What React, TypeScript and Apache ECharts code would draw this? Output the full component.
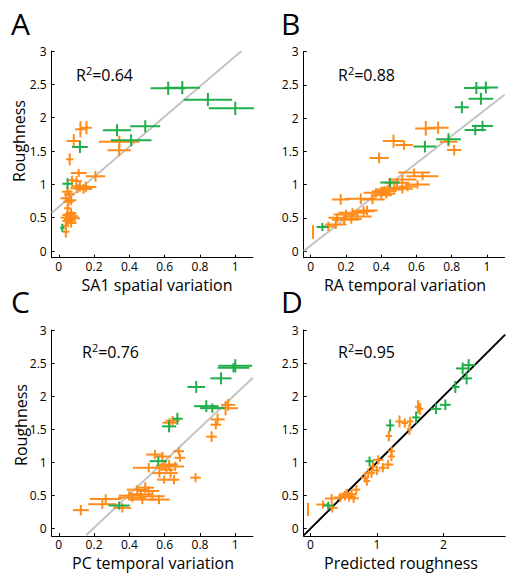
import React, { useEffect, useRef } from 'react';
import * as echarts from 'echarts';

const FONT = '"Open Sans", sans-serif';
const ORANGE = '#ff8c1a';
const GREEN = '#1fae4a';

const yTicks = [0, 0.5, 1, 1.5, 2, 2.5, 3];
const xTicksVar = [0, 0.2, 0.4, 0.6, 0.8, 1];
const xTicksPred = [0, 1, 2];

const panelLetters = ['A', 'B', 'C', 'D'];
const xTitles = ['SA1 spatial variation', 'RA temporal variation', 'PC temporal variation', 'Predicted roughness'];
const r2Values = ['0.64', '0.88', '0.76', '0.95'];

// each point: [x, y, xErr, yErr]
const greenA = [
  [0.62, 2.44, 0.1, 0.1], [0.70, 2.45, 0.1, 0.1], [0.845, 2.27, 0.137, 0.1], [1.0, 2.14, 0.15, 0.1],
  [0.33, 1.81, 0.08, 0.09], [0.49, 1.87, 0.085, 0.09], [0.41, 1.66, 0.115, 0.09], [0.12, 1.56, 0.045, 0.09],
  [0.05, 1.01, 0.03, 0.08], [0.02, 0.35, 0.012, 0.06],
];
const orangeA = [
  [0.123, 1.825, 0.03, 0.12], [0.157, 1.85, 0.03, 0.1], [0.085, 1.65, 0.04, 0.1], [0.062, 1.375, 0.02, 0.09],
  [0.343, 1.64, 0.115, 0.09], [0.342, 1.51, 0.066, 0.09], [0.113, 1.17, 0.045, 0.06], [0.208, 1.12, 0.055, 0.08],
  [0.075, 1.06, 0.03, 0.07], [0.12, 0.97, 0.05, 0.08], [0.153, 0.96, 0.06, 0.08], [0.106, 0.94, 0.04, 0.07],
  [0.14, 0.93, 0.05, 0.07], [0.049, 0.89, 0.03, 0.07], [0.06, 0.85, 0.03, 0.07], [0.04, 0.79, 0.03, 0.07],
  [0.055, 0.74, 0.03, 0.07], [0.07, 0.76, 0.03, 0.07], [0.05, 0.64, 0.02, 0.07], [0.07, 0.57, 0.03, 0.07],
  [0.05, 0.54, 0.03, 0.07], [0.08, 0.52, 0.03, 0.07], [0.04, 0.5, 0.03, 0.07], [0.06, 0.48, 0.03, 0.07],
  [0.09, 0.49, 0.03, 0.07], [0.05, 0.45, 0.03, 0.07], [0.07, 0.42, 0.03, 0.07], [0.04, 0.38, 0.02, 0.07],
  [0.04, 0.29, 0.02, 0.09], [0.1, 1.05, 0.03, 0.07],
];

const greenB = [
  [0.94, 2.45, 0.07, 0.09], [0.994, 2.46, 0.07, 0.09], [0.966, 2.29, 0.07, 0.09], [0.858, 2.16, 0.04, 0.09],
  [0.934, 1.82, 0.06, 0.08], [0.975, 1.88, 0.06, 0.08], [0.782, 1.68, 0.07, 0.09], [0.648, 1.57, 0.065, 0.09],
  [0.45, 1.03, 0.055, 0.07], [0.066, 0.36, 0.033, 0.06],
];
const orangeB = [
  [0.653, 1.844, 0.06, 0.11], [0.723, 1.854, 0.06, 0.09], [0.47, 1.653, 0.06, 0.1], [0.53, 1.593, 0.05, 0.07],
  [0.388, 1.40, 0.055, 0.08], [0.782, 1.643, 0.05, 0.07], [0.814, 1.518, 0.04, 0.08], [0.587, 1.18, 0.09, 0.06],
  [0.635, 1.125, 0.09, 0.06], [0.606, 1.0, 0.07, 0.06], [0.52, 1.075, 0.08, 0.07], [0.49, 1.025, 0.07, 0.07],
  [0.474, 0.95, 0.08, 0.07], [0.445, 0.925, 0.08, 0.07], [0.417, 0.90, 0.07, 0.07], [0.37, 0.875, 0.07, 0.07],
  [0.52, 0.935, 0.06, 0.07], [0.55, 0.97, 0.05, 0.07], [0.284, 0.785, 0.09, 0.08], [0.17, 0.775, 0.05, 0.08],
  [0.35, 0.775, 0.07, 0.07], [0.32, 0.61, 0.06, 0.07], [0.237, 0.575, 0.08, 0.07], [0.2, 0.55, 0.07, 0.07],
  [0.265, 0.52, 0.08, 0.07], [0.15, 0.50, 0.05, 0.07], [0.19, 0.47, 0.07, 0.07], [0.30, 0.60, 0.06, 0.07],
  [0.23, 0.48, 0.06, 0.07], [0.142, 0.40, 0.06, 0.07], [0.10, 0.37, 0.04, 0.07], [0.013, 0.286, 0.005, 0.1],
  [0.40, 0.84, 0.06, 0.07], [0.43, 0.86, 0.05, 0.07],
];

const greenC = [
  [1.0, 2.46, 0.095, 0.1], [0.99, 2.43, 0.09, 0.07], [0.919, 2.27, 0.06, 0.09], [0.779, 2.14, 0.05, 0.09],
  [0.836, 1.85, 0.07, 0.09], [0.87, 1.82, 0.07, 0.07], [0.672, 1.66, 0.03, 0.09], [0.625, 1.545, 0.04, 0.09],
  [0.564, 1.02, 0.05, 0.07], [0.342, 0.35, 0.06, 0.06],
];
const orangeC = [
  [0.945, 1.82, 0.07, 0.11], [0.96, 1.87, 0.04, 0.09], [0.90, 1.65, 0.04, 0.09], [0.89, 1.57, 0.03, 0.07],
  [0.866, 1.39, 0.03, 0.08], [0.628, 1.60, 0.04, 0.07], [0.645, 1.63, 0.04, 0.07], [0.125, 0.28, 0.045, 0.08],
  [0.266, 0.45, 0.09, 0.07], [0.247, 0.37, 0.08, 0.07], [0.36, 0.315, 0.05, 0.07], [0.445, 0.59, 0.06, 0.07],
  [0.49, 0.62, 0.05, 0.08], [0.465, 0.52, 0.07, 0.07], [0.53, 0.49, 0.07, 0.07], [0.417, 0.47, 0.08, 0.07],
  [0.568, 0.44, 0.06, 0.07], [0.474, 0.44, 0.08, 0.07], [0.51, 0.57, 0.06, 0.07], [0.40, 0.5, 0.06, 0.07],
  [0.545, 1.12, 0.05, 0.07], [0.587, 1.09, 0.05, 0.07], [0.51, 0.92, 0.09, 0.07], [0.68, 1.17, 0.03, 0.06],
  [0.687, 1.07, 0.03, 0.06], [0.66, 0.94, 0.05, 0.07], [0.625, 0.97, 0.05, 0.07], [0.57, 0.84, 0.04, 0.07],
  [0.634, 0.84, 0.04, 0.07], [0.653, 0.74, 0.03, 0.07], [0.597, 0.74, 0.04, 0.06], [0.775, 0.77, 0.03, 0.07],
  [0.61, 0.89, 0.04, 0.06], [0.6, 0.95, 0.05, 0.06],
];

const greenD = [
  [2.29, 2.42, 0.1, 0.09], [2.38, 2.47, 0.1, 0.09], [2.35, 2.27, 0.08, 0.09], [2.18, 2.14, 0.06, 0.09],
  [1.89, 1.81, 0.08, 0.08], [2.03, 1.87, 0.08, 0.08], [1.59, 1.68, 0.06, 0.09], [1.20, 1.56, 0.06, 0.09],
  [0.89, 1.02, 0.06, 0.07], [0.27, 0.35, 0.08, 0.06],
];
const orangeD = [
  [-0.035, 0.29, 0.01, 0.1], [0.19, 0.365, 0.1, 0.06], [0.33, 0.315, 0.08, 0.07], [0.32, 0.456, 0.1, 0.07],
  [0.45, 0.47, 0.1, 0.07], [0.52, 0.50, 0.1, 0.07], [0.58, 0.48, 0.1, 0.07], [0.62, 0.52, 0.08, 0.07],
  [0.65, 0.46, 0.08, 0.07], [0.69, 0.59, 0.06, 0.07], [0.55, 0.53, 0.08, 0.07], [0.82, 0.77, 0.06, 0.07],
  [0.87, 0.84, 0.06, 0.07], [0.85, 0.72, 0.05, 0.07], [0.94, 0.94, 0.06, 0.07], [1.02, 1.04, 0.08, 0.07],
  [1.09, 0.92, 0.06, 0.07], [1.17, 0.97, 0.08, 0.07], [1.22, 1.09, 0.05, 0.07], [1.22, 1.17, 0.05, 0.07],
  [1.0, 0.88, 0.05, 0.07], [1.18, 1.40, 0.05, 0.08], [1.49, 1.50, 0.04, 0.08], [1.62, 1.84, 0.05, 0.1],
  [1.65, 1.81, 0.05, 0.09], [1.34, 1.62, 0.06, 0.09], [1.42, 1.595, 0.05, 0.07], [1.50, 1.62, 0.05, 0.07],
  [0.92, 0.84, 0.05, 0.07],
];

// fit lines (two end points each)
const fitA = [[-0.04, 0.57], [1.035, 3.0]];
const fitB = [[-0.04, 0.0], [1.1, 2.35]];
const fitC = [[0.155, -0.1], [1.1, 2.28]];
const fitD = [[-0.1, -0.1], [2.93, 2.93]];

const renderCross = (params: any, api: any) => {
  const x = api.value(0), y = api.value(1), xe = api.value(2), ye = api.value(3);
  const l = api.coord([x - xe, y]);
  const r = api.coord([x + xe, y]);
  const t = api.coord([x, y + ye]);
  const b = api.coord([x, y - ye]);
  const style = { stroke: api.visual('color'), lineWidth: 2, fill: null };
  return {
    type: 'group',
    children: [
      { type: 'line', shape: { x1: l[0], y1: l[1], x2: r[0], y2: r[1] }, style },
      { type: 'line', shape: { x1: t[0], y1: t[1], x2: b[0], y2: b[1] }, style },
    ],
  };
};

export default function App() {
  const ref = useRef<HTMLDivElement>(null);
  useEffect(() => {
    if (!ref.current) return;
    const chart = echarts.init(ref.current, null, { renderer: 'svg' });
    const grids = [
      { left: 51.7, top: 51, width: 201.2, height: 206.7 },
      { left: 303.7, top: 51.5, width: 200.8, height: 206.2 },
      { left: 51.7, top: 330, width: 201.2, height: 206 },
      { left: 303.7, top: 330, width: 201.5, height: 206 },
    ];
    const xRanges = [[-0.04, 1.1], [-0.04, 1.1], [-0.04, 1.1], [-0.1, 2.93]];
    const yRanges = [[-0.1, 3], [-0.1, 3], [-0.11, 3], [-0.11, 3]];
    const xTicks = [xTicksVar, xTicksVar, xTicksVar, xTicksPred];
    const axisCommon = (ticks: number[]) => ({
      axisLine: { show: true, onZero: false, lineStyle: { color: '#000', width: 1 } },
      axisTick: { show: true, inside: true, length: 3, customValues: ticks, lineStyle: { color: '#000' } },
      axisLabel: {
        customValues: ticks, color: '#000', fontSize: 12, fontFamily: FONT, lineHeight: 13,
        formatter: (v: number) => String(v),
      },
      splitLine: { show: false },
    });
    const xAxis = grids.map((_, i) => {
      const c: any = axisCommon(xTicks[i]);
      c.axisLabel.margin = 2;
      return { type: 'value', gridIndex: i, min: xRanges[i][0], max: xRanges[i][1], ...c };
    });
    const yAxis = grids.map((_, i) => {
      const c: any = axisCommon(yTicks);
      c.axisLabel.margin = 5;
      return { type: 'value', gridIndex: i, min: yRanges[i][0], max: yRanges[i][1], ...c };
    });
    const fits = [fitA, fitB, fitC, fitD];
    const greens = [greenA, greenB, greenC, greenD];
    const oranges = [orangeA, orangeB, orangeC, orangeD];
    const series: any[] = [];
    for (let i = 0; i < 4; i++) {
      series.push({
        type: 'line', xAxisIndex: i, yAxisIndex: i, data: fits[i], showSymbol: false, symbol: 'none',
        lineStyle: { color: i === 3 ? '#000' : '#c4c4c4', width: 2 }, z: 1, silent: true,
      });
      series.push({
        type: 'custom', xAxisIndex: i, yAxisIndex: i, data: oranges[i], renderItem: renderCross,
        encode: { x: 0, y: 1 }, itemStyle: { color: ORANGE }, clip: true, z: 2,
      });
      series.push({
        type: 'custom', xAxisIndex: i, yAxisIndex: i, data: greens[i], renderItem: renderCross,
        encode: { x: 0, y: 1 }, itemStyle: { color: GREEN }, clip: true, z: 3,
      });
    }
    const letterPos = [[11, 23], [281, 23], [11, 301], [281, 301]];
    const xTitlePos = [[157, 285], [405, 285], [153, 563], [401, 563]];
    const r2Pos = [[76, 74], [338, 74], [82, 351], [338, 351]];
    const graphic: any[] = [];
    for (let i = 0; i < 4; i++) {
      graphic.push({
        type: 'text', x: letterPos[i][0], y: letterPos[i][1],
        style: {
          text: panelLetters[i], font: `30px ${FONT}`, lineHeight: 22, fill: '#000',
          align: 'left', verticalAlign: 'middle',
        },
      });
      graphic.push({
        type: 'text', x: xTitlePos[i][0], y: xTitlePos[i][1],
        style: { text: xTitles[i], font: `16px ${FONT}`, lineHeight: 16, fill: '#000', align: 'center', verticalAlign: 'middle' },
      });
      graphic.push({
        type: 'text', x: r2Pos[i][0], y: r2Pos[i][1],
        style: {
          text: `{b|R}{s|2}{b|=${r2Values[i]}}`, align: 'left', verticalAlign: 'middle',
          rich: {
            b: { fontSize: 16, fontFamily: FONT, fill: '#000', color: '#000', lineHeight: 18, verticalAlign: 'bottom' },
            s: { fontSize: 11, fontFamily: FONT, fill: '#000', color: '#000', lineHeight: 18, verticalAlign: 'top' },
          },
        },
      });
    }
    graphic.push({
      type: 'text', x: 19, y: 141, rotation: Math.PI / 2,
      style: { text: 'Roughness', font: `16px ${FONT}`, fill: '#000', align: 'center', verticalAlign: 'middle' },
    });
    graphic.push({
      type: 'text', x: 21, y: 425, rotation: Math.PI / 2,
      style: { text: 'Roughness', font: `16px ${FONT}`, fill: '#000', align: 'center', verticalAlign: 'middle' },
    });
    chart.setOption({
      animation: false,
      grid: grids,
      xAxis,
      yAxis,
      series,
      graphic,
    });
    return () => chart.dispose();
  }, []);
  return <div ref={ref} style={{ position: 'absolute', left: 0, top: 0, width: 506, height: 573 }} />;
}
